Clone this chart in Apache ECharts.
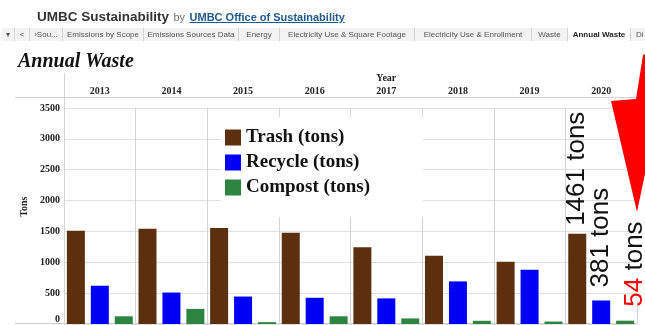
<!DOCTYPE html>
<html>
<head>
<meta charset="utf-8">
<title>Annual Waste</title>
<script src="https://cdn.jsdelivr.net/npm/echarts@6.0.0/dist/echarts.min.js"></script>
<style>
  body { margin: 0; background: #fff; }
  .page { position: relative; width: 645px; height: 325px; overflow: hidden; font-family: "Liberation Sans", Arial, sans-serif; }
  #main { position: absolute; left: 0; top: 0; width: 645px; height: 325px; }
  .top { position: absolute; left: 37px; top: 7px; white-space: nowrap; z-index: 2; }
  .top b { color: #333; font-size: 13.5px; }
  .top .by { color: #777; font-size: 11px; }
  .top a { color: #1f5a8c; font-weight: bold; font-size: 11px; }
  .tabs { position: absolute; left: 0; top: 28px; width: 645px; height: 13px; z-index: 2; }
  .tabs span {
    position: absolute; top: 0; height: 13px; line-height: 13px;
    font-size: 8px; color: #555; background: #f3f3f3;
    border-right: 1px solid #d2d2d2; box-sizing: border-box;
    text-align: center; white-space: nowrap; overflow: hidden;
  }
  .tabs span.on { background: #fff; color: #222; font-weight: bold; }
</style>
</head>
<body>
<div class="page">
  <div id="main"></div>
  <div class="top"><b>UMBC Sustainability</b> <span class="by">by</span> <a href="#">UMBC Office of Sustainability</a></div>
  <div class="tabs" id="tabs"></div>
</div>
<script>
// 数据
const years = ["2013", "2014", "2015", "2016", "2017", "2018", "2019", "2020"]
const trash = [1510, 1545, 1555, 1480, 1245, 1105, 1010, 1461]
const recycle = [620, 510, 445, 425, 415, 690, 880, 381]
const compost = [125, 245, 30, 125, 90, 52, 40, 54]
const seriesNames = ["Trash (tons)", "Recycle (tons)", "Compost (tons)"]
const yMax = 3500
const yStep = 500

// tableau 顶部标签页 [文字, left, width]
const tabs = [
  ["\u25BE", 2, 13], ["<", 15, 15], ["\u203ASou...", 30, 33],
  ["Emissions by Scope", 63, 81], ["Emissions Sources Data", 144, 95],
  ["Energy", 239, 41], ["Electricity Use & Square Footage", 280, 135],
  ["Electricity Use & Enrollment", 415, 117], ["Waste", 532, 36],
  ["Annual Waste", 568, 63], ["Di", 631, 30]
]
let box = document.getElementById("tabs")
tabs.forEach((t) => {
  let s = document.createElement("span")
  s.textContent = t[0]
  s.style.left = t[1] + "px"
  s.style.width = t[2] + "px"
  if (t[0] === "Annual Waste") s.className = "on"
  if (t[0] === "Di") { s.style.textAlign = "left"; s.style.paddingLeft = "5px" }
  box.appendChild(s)
})

const gridLeft = 64
const gridRight = 637
const gridTop = 108
const gridBottom = 324
const serif = "Liberation Serif"
const last = years.length - 1
// 最右边那条竖线不画
const vLineColors = years.map(() => "#d4d4d4").concat(["rgba(0,0,0,0)"])

function withLabel(values, extra) {
  return values.map((v, i) => {
    if (i !== last) return v
    return {
      value: v,
      label: Object.assign({
        show: true,
        position: "top",
        rotate: 90,
        align: "left",
        verticalAlign: "middle",
        fontFamily: "Liberation Sans",
        fontSize: 26,
        color: "#111",
        formatter: "{c} tons"
      }, extra)
    }
  })
}

var myChart = echarts.init(document.getElementById("main"))
var option = {
  animation: false,
  title: {
    text: "Annual Waste",
    left: 13,
    top: 47,
    textStyle: { fontFamily: serif, fontStyle: "italic", fontWeight: "bold", fontSize: 20, color: "#111" }
  },
  legend: {
    data: seriesNames,
    orient: "vertical",
    left: 221,
    top: 117,
    padding: [11, 53, 20, 4],
    itemGap: 6,
    itemWidth: 16,
    itemHeight: 16,
    icon: "rect",
    backgroundColor: "#fff",
    textStyle: { fontFamily: serif, fontWeight: "bold", fontSize: 19, color: "#111" }
  },
  grid: {
    left: gridLeft,
    right: 645 - gridRight,
    top: gridTop,
    bottom: 325 - gridBottom
  },
  xAxis: {
    type: "category",
    position: "top",
    data: years,
    axisLine: { show: false },
    axisTick: { show: true, length: 23, lineStyle: { color: "#d4d4d4" } },
    axisLabel: { margin: 12, fontFamily: serif, fontWeight: "bold", fontSize: 10, color: "#222" },
    splitLine: { show: true, lineStyle: { color: vLineColors } }
  },
  yAxis: {
    type: "value",
    min: 0,
    max: yMax,
    interval: yStep,
    axisLine: { show: false },
    axisTick: { show: false },
    axisLabel: {
      margin: 4,
      fontFamily: serif,
      fontWeight: "bold",
      fontSize: 10,
      color: "#222",
      verticalAlignMinLabel: "bottom",
      formatter: (v) => String(v)
    },
    splitLine: { lineStyle: { color: "#e0e0e0" } }
  },
  series: [
    {
      name: seriesNames[0],
      type: "bar",
      barWidth: 18,
      barGap: "33%",
      itemStyle: { color: "#5c300e" },
      data: withLabel(trash, { distance: 8 })
    },
    {
      name: seriesNames[1],
      type: "bar",
      barWidth: 18,
      barGap: "33%",
      itemStyle: { color: "#0000f4" },
      data: withLabel(recycle, { distance: 13 })
    },
    {
      name: seriesNames[2],
      type: "bar",
      barWidth: 18,
      barGap: "33%",
      itemStyle: { color: "#2e8541" },
      data: withLabel(compost, {
        distance: 14,
        offset: [0, 10],
        formatter: "{r|{c}} tons",
        rich: { r: { color: "#ff0000", fontSize: 26, fontFamily: "Liberation Sans" } }
      })
    }
  ]
}
myChart.setOption(option)

// 表头线条、"Year"、"Tons" 和红色箭头
let yearX = myChart.convertToPixel({ xAxisIndex: 0 }, "2017")
let midY = myChart.convertToPixel({ yAxisIndex: 0 }, 1900)
myChart.setOption({
  graphic: [
    { type: "line", shape: { x1: 15, y1: 97.5, x2: gridRight, y2: 97.5 }, style: { stroke: "#d4d4d4", lineWidth: 1 } },
    { type: "line", shape: { x1: 15, y1: gridBottom - 0.5, x2: gridRight, y2: gridBottom - 0.5 }, style: { stroke: "#cfcfcf", lineWidth: 1 } },
    { type: "line", shape: { x1: gridLeft + 0.5, y1: 73, x2: gridLeft + 0.5, y2: gridBottom }, style: { stroke: "#d4d4d4", lineWidth: 1 } },
    {
      type: "text", x: yearX, y: 78,
      style: { text: "Year", font: "bold 10px " + serif, fill: "#222", align: "center", verticalAlign: "middle", textAlign: "center", textVerticalAlign: "middle" }
    },
    {
      type: "text", x: 24, y: midY, rotation: Math.PI / 2,
      style: { text: "Tons", font: "bold 10px " + serif, fill: "#222", align: "center", verticalAlign: "middle", textAlign: "center", textVerticalAlign: "middle" }
    },
    {
      type: "polygon", z: 100,
      shape: { points: [[643, 55], [650, 52], [650, 150], [637, 212], [611, 101], [636, 99]] },
      style: { fill: "#ff0000" }
    }
  ]
})
</script>
</body>
</html>
